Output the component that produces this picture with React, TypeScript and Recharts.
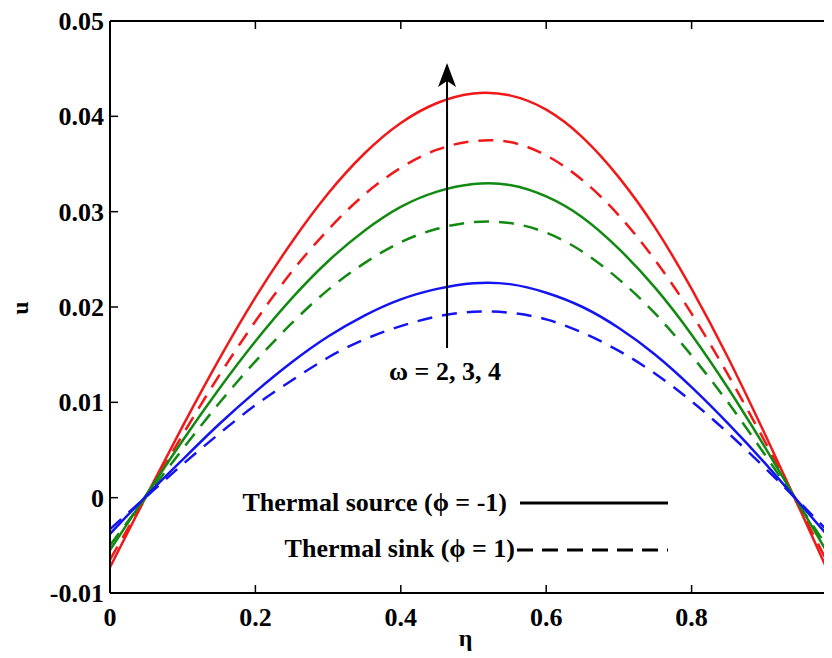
import React from "react";
import {
  LineChart,
  Line,
  XAxis,
  YAxis,
  ReferenceLine,
  Legend,
} from "recharts";

// eta positions across the channel
const eta = [
  0, 0.05, 0.1, 0.15, 0.2, 0.25, 0.3, 0.35, 0.4, 0.45, 0.5, 0.55, 0.6, 0.65,
  0.7, 0.75, 0.8, 0.85, 0.9, 0.95, 1,
];

// thermal source (phi = -1), solid lines
const sourceW4 = [
  -0.0073, 0.0002, 0.0075, 0.0145, 0.021, 0.0268, 0.0319, 0.0361, 0.0393,
  0.0414, 0.0424, 0.0422, 0.0407, 0.0378, 0.0336, 0.0283, 0.0219, 0.0147,
  0.0068, -0.0014, -0.0098,
];
const sourceW3 = [
  -0.0055, 0.0003, 0.006, 0.0114, 0.0164, 0.0209, 0.0248, 0.028, 0.0305,
  0.0321, 0.0329, 0.0328, 0.0316, 0.0294, 0.0261, 0.022, 0.0171, 0.0115,
  0.0054, -0.001, -0.0075,
];
const sourceW2 = [
  -0.0038, 0.0002, 0.004, 0.0077, 0.0111, 0.0142, 0.0169, 0.0191, 0.0208,
  0.0219, 0.0225, 0.0224, 0.0215, 0.02, 0.0178, 0.015, 0.0116, 0.0078, 0.0037,
  -0.0007, -0.0051,
];

// thermal sink (phi = 1), dashed lines
const sinkW4 = [
  -0.0065, 0.0001, 0.0066, 0.0128, 0.0185, 0.0237, 0.0281, 0.0318, 0.0346,
  0.0365, 0.0374, 0.0373, 0.0359, 0.0333, 0.0296, 0.0249, 0.0193, 0.0129,
  0.006, -0.0013, -0.0087,
];
const sinkW3 = [
  -0.005, 0.0001, 0.0051, 0.0099, 0.0143, 0.0183, 0.0218, 0.0246, 0.0268,
  0.0282, 0.0289, 0.0288, 0.0278, 0.0258, 0.0229, 0.0193, 0.0149, 0.01,
  0.0046, -0.001, -0.0067,
];
const sinkW2 = [
  -0.0033, 0.0001, 0.0035, 0.0067, 0.0097, 0.0123, 0.0147, 0.0166, 0.018,
  0.019, 0.0195, 0.0194, 0.0187, 0.0173, 0.0154, 0.013, 0.0101, 0.0068,
  0.0032, -0.0006, -0.0045,
];

const xTicks = [0, 0.2, 0.4, 0.6, 0.8, 1];
const yTicks = [-0.01, 0, 0.01, 0.02, 0.03, 0.04, 0.05];

const data = eta.map((e, i) => ({
  eta: e,
  s4: sourceW4[i],
  s3: sourceW3[i],
  s2: sourceW2[i],
  k4: sinkW4[i],
  k3: sinkW3[i],
  k2: sinkW2[i],
}));

const FONT = '"Liberation Serif", "Times New Roman", serif';
const RED = "#f01818";
const GREEN = "#128a12";
const BLUE = "#1414f0";

// plot box inside the svg
const PLOT = { left: 102, top: 13, right: 829, bottom: 585 };
const TICK = 8;

const fmtX = (v: number) => (v === 0 ? "0" : v === 1 ? "1" : v.toFixed(1));
const fmtY = (v: number) => (v === 0 ? "0" : v.toFixed(2));

const XTick = (props: any) => {
  const { x, payload } = props;
  return (
    <g>
      <line x1={x} x2={x} y1={PLOT.bottom} y2={PLOT.bottom - TICK} stroke="#000" strokeWidth={1.5} />
      <line x1={x} x2={x} y1={PLOT.top} y2={PLOT.top + TICK} stroke="#000" strokeWidth={1.5} />
      <text
        x={x}
        y={PLOT.bottom + 33}
        textAnchor="middle"
        fontFamily={FONT}
        fontWeight="bold"
        fontSize={26}
        fill="#000"
      >
        {fmtX(payload.value)}
      </text>
    </g>
  );
};

const YTick = (props: any) => {
  const { y, payload } = props;
  return (
    <g>
      <line x1={PLOT.left} x2={PLOT.left + TICK} y1={y} y2={y} stroke="#000" strokeWidth={1.5} />
      <line x1={PLOT.right - TICK} x2={PLOT.right} y1={y} y2={y} stroke="#000" strokeWidth={1.5} />
      <text
        x={PLOT.left - 6}
        y={y}
        dy="0.35em"
        textAnchor="end"
        fontFamily={FONT}
        fontWeight="bold"
        fontSize={26}
        fill="#000"
      >
        {fmtY(payload.value)}
      </text>
    </g>
  );
};

const Arrow = (props: any) => {
  const { x1, y1, x2, y2 } = props;
  return (
    <g>
      <line x1={x1} y1={y1} x2={x2} y2={y2 + 12} stroke="#000" strokeWidth={2} />
      <polygon
        points={`${x2},${y2} ${x2 + 9},${y2 + 24} ${x2},${y2 + 18} ${x2 - 9},${y2 + 24}`}
        fill="#000"
      />
      <text
        x={x1 - 2}
        y={y1 + 32}
        textAnchor="middle"
        fontFamily={FONT}
        fontWeight="bold"
        fontSize={26}
        fill="#000"
      >
        ω = 2, 3, 4
      </text>
    </g>
  );
};

const LegendBox = () => (
  <svg width={440} height={90} style={{ display: "block" }}>
    <g fontFamily={FONT} fontWeight="bold" fontSize={26} fill="#000">
      <text x={267} y={36} textAnchor="end">
        Thermal source (ϕ = -1)
      </text>
      <text x={275} y={82} textAnchor="end">
        Thermal sink (ϕ = 1)
      </text>
    </g>
    <line x1={280} x2={428} y1={28} y2={28} stroke="#000" strokeWidth={3} />
    <line x1={277} x2={428} y1={75} y2={75} stroke="#000" strokeWidth={3} strokeDasharray="16 9" />
  </svg>
);

export default function App() {
  return (
    <div style={{ width: 824, height: 650, overflow: "hidden", position: "relative" }}>
      <LineChart
        width={840}
        height={650}
        data={data}
        margin={{ top: 13, right: 11, left: 0, bottom: 0 }}
      >
        <XAxis
          dataKey="eta"
          type="number"
          domain={[0, 1]}
          ticks={xTicks}
          tick={<XTick />}
          tickLine={false}
          axisLine={{ stroke: "#000", strokeWidth: 2 }}
          height={65}
          interval={0}
          label={{
            content: (p: any) => (
              <text
                x={p.viewBox.x + p.viewBox.width / 2 - 8}
                y={p.viewBox.y + 53}
                textAnchor="middle"
                fontFamily={FONT}
                fontWeight="bold"
                fontSize={24}
                fill="#000"
              >
                η
              </text>
            ),
          }}
        />
        <YAxis
          type="number"
          domain={[-0.01, 0.05]}
          ticks={yTicks}
          tick={<YTick />}
          tickLine={false}
          axisLine={{ stroke: "#000", strokeWidth: 2 }}
          width={102}
          interval={0}
          allowDataOverflow
          label={{
            content: (p: any) => {
              const cx = 12;
              const cy = p.viewBox.y + p.viewBox.height / 2 + 1;
              return (
                <text
                  x={cx}
                  y={cy}
                  transform={`rotate(-90 ${cx} ${cy})`}
                  textAnchor="middle"
                  dy="0.35em"
                  fontFamily={FONT}
                  fontWeight="bold"
                  fontSize={24}
                  fill="#000"
                >
                  u
                </text>
              );
            },
          }}
        />
        <ReferenceLine y={0.05} stroke="#000" strokeWidth={2} />
        <ReferenceLine x={1} stroke="#000" strokeWidth={2} />

        <Line type="natural" dataKey="s4" stroke={RED} strokeWidth={2.5} dot={false} isAnimationActive={false} />
        <Line type="natural" dataKey="k4" stroke={RED} strokeWidth={2.5} strokeDasharray="15 10" dot={false} isAnimationActive={false} />
        <Line type="natural" dataKey="s3" stroke={GREEN} strokeWidth={2.5} dot={false} isAnimationActive={false} />
        <Line type="natural" dataKey="k3" stroke={GREEN} strokeWidth={2.5} strokeDasharray="15 10" dot={false} isAnimationActive={false} />
        <Line type="natural" dataKey="s2" stroke={BLUE} strokeWidth={2.5} dot={false} isAnimationActive={false} />
        <Line type="natural" dataKey="k2" stroke={BLUE} strokeWidth={2.5} strokeDasharray="15 10" dot={false} isAnimationActive={false} />

        <ReferenceLine
          segment={[
            { x: 0.4636, y: 0.0157 },
            { x: 0.4636, y: 0.0456 },
          ]}
          shape={<Arrow />}
        />

        <Legend
          layout="horizontal"
          verticalAlign="middle"
          align="center"
          content={<LegendBox />}
          wrapperStyle={{ left: 232, top: 467, width: 440, height: 90 }}
        />
      </LineChart>
    </div>
  );
}
